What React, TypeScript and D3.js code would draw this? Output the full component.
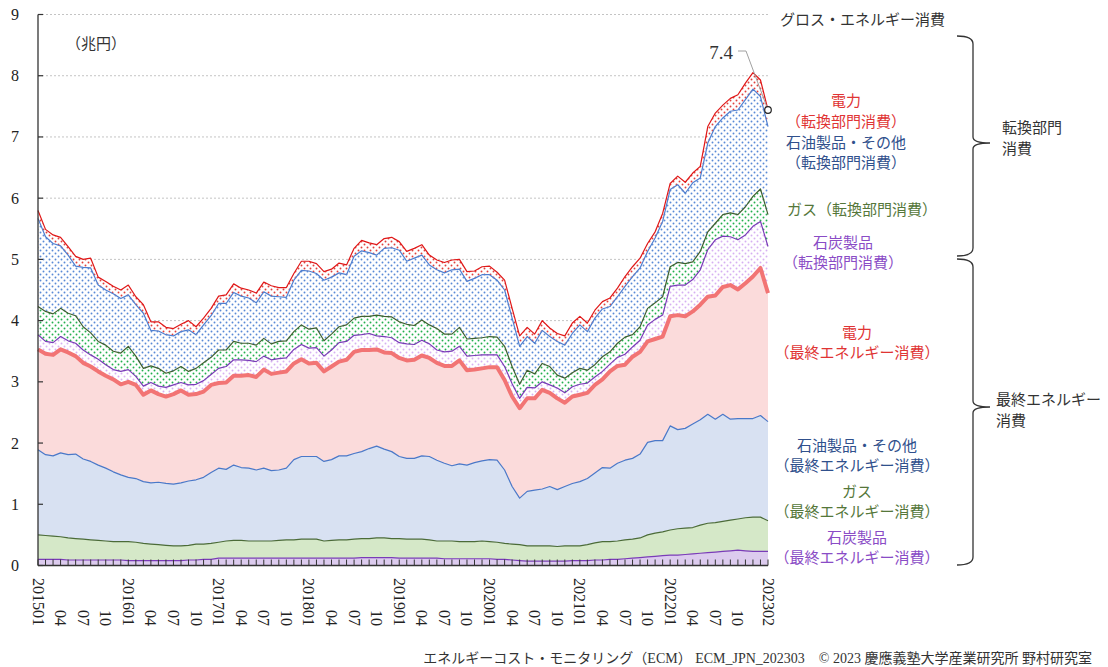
import React from 'react';
import * as d3 from 'd3';

// ---- categories (2015-01 .. 2023-02, monthly) ----
const months: string[] = d3
  .timeMonth.range(new Date(2015, 0, 1), new Date(2023, 2, 1))
  .map((d) => d3.timeFormat('%Y%m')(d));

// ---- series values (兆円), stacked bottom to top ----
const coalFinal = [
  0.10,0.10,0.10,0.10,0.09,0.09,0.09,0.09,0.09,0.09,0.09,0.09,
  0.08,0.08,0.08,0.08,0.08,0.08,0.08,0.08,0.09,0.09,0.10,0.10,
  0.12,0.12,0.12,0.12,0.12,0.12,0.12,0.12,0.12,0.12,0.12,0.12,
  0.12,0.12,0.12,0.12,0.12,0.12,0.12,0.13,0.13,0.13,0.13,0.13,
  0.12,0.12,0.12,0.12,0.12,0.12,0.11,0.11,0.11,0.11,0.11,0.11,
  0.11,0.10,0.10,0.09,0.08,0.07,0.07,0.07,0.07,0.07,0.07,0.08,
  0.08,0.08,0.09,0.09,0.10,0.10,0.11,0.12,0.13,0.14,0.15,0.16,
  0.17,0.17,0.18,0.19,0.20,0.21,0.22,0.23,0.24,0.25,0.24,0.23,0.23,0.23,
];
const gasFinal = [
  0.40,0.39,0.38,0.37,0.36,0.35,0.34,0.33,0.32,0.31,0.30,0.30,
  0.31,0.30,0.28,0.27,0.26,0.25,0.24,0.24,0.24,0.26,0.25,0.26,
  0.26,0.28,0.29,0.29,0.28,0.28,0.28,0.28,0.29,0.30,0.30,0.31,
  0.31,0.31,0.28,0.29,0.30,0.30,0.31,0.31,0.31,0.32,0.32,0.31,
  0.32,0.31,0.31,0.31,0.30,0.28,0.29,0.29,0.28,0.28,0.28,0.29,
  0.28,0.28,0.26,0.26,0.26,0.25,0.25,0.25,0.25,0.24,0.25,0.24,
  0.24,0.26,0.28,0.30,0.29,0.30,0.31,0.31,0.32,0.36,0.38,0.39,
  0.41,0.43,0.43,0.43,0.46,0.48,0.48,0.49,0.50,0.51,0.54,0.56,0.56,0.50,
];
const petroFinal = [
  1.39,1.32,1.31,1.37,1.36,1.38,1.31,1.28,1.23,1.19,1.14,1.09,
  1.05,1.04,1.01,1.00,1.02,1.01,1.01,1.03,1.05,1.05,1.09,1.16,
  1.21,1.17,1.23,1.19,1.19,1.16,1.19,1.15,1.15,1.17,1.31,1.35,
  1.35,1.35,1.30,1.32,1.37,1.37,1.40,1.42,1.47,1.50,1.45,1.42,
  1.34,1.32,1.32,1.36,1.36,1.32,1.27,1.23,1.27,1.25,1.29,1.31,
  1.34,1.34,1.20,0.94,0.76,0.89,0.91,0.93,0.97,0.93,0.97,1.02,
  1.05,1.08,1.14,1.21,1.20,1.27,1.30,1.32,1.37,1.51,1.51,1.49,
  1.70,1.62,1.63,1.69,1.72,1.78,1.69,1.75,1.65,1.64,1.62,1.61,1.66,1.62,
];
const elecFinal = [
  1.64,1.65,1.65,1.69,1.67,1.60,1.57,1.55,1.53,1.51,1.51,1.48,
  1.56,1.53,1.42,1.51,1.44,1.42,1.47,1.51,1.41,1.40,1.40,1.43,
  1.39,1.42,1.46,1.50,1.52,1.52,1.61,1.58,1.59,1.58,1.57,1.59,
  1.52,1.53,1.47,1.52,1.54,1.57,1.66,1.66,1.61,1.58,1.58,1.61,
  1.61,1.60,1.61,1.64,1.61,1.59,1.59,1.63,1.69,1.55,1.52,1.51,
  1.51,1.52,1.47,1.47,1.47,1.52,1.50,1.62,1.53,1.49,1.37,1.42,
  1.42,1.40,1.44,1.44,1.58,1.59,1.56,1.66,1.67,1.65,1.66,1.70,
  1.79,1.87,1.83,1.84,1.88,1.92,2.02,2.08,2.19,2.11,2.21,2.32,2.41,2.10,
];
const coalTrans = [
  0.24,0.20,0.20,0.21,0.19,0.21,0.21,0.19,0.20,0.18,0.16,0.21,
  0.20,0.14,0.14,0.13,0.13,0.15,0.15,0.13,0.16,0.16,0.18,0.17,
  0.24,0.26,0.26,0.26,0.24,0.25,0.22,0.23,0.23,0.22,0.23,0.24,
  0.25,0.25,0.25,0.27,0.31,0.30,0.27,0.25,0.27,0.22,0.26,0.25,
  0.25,0.27,0.25,0.25,0.23,0.21,0.23,0.24,0.23,0.23,0.23,0.22,
  0.20,0.20,0.22,0.21,0.16,0.18,0.17,0.13,0.13,0.17,0.16,0.16,
  0.17,0.16,0.13,0.13,0.12,0.14,0.17,0.16,0.19,0.27,0.32,0.35,
  0.49,0.49,0.51,0.52,0.57,0.77,0.91,0.83,0.79,0.81,0.79,0.82,0.76,0.76,
];
const gasTrans = [
  0.46,0.49,0.47,0.46,0.45,0.45,0.38,0.36,0.29,0.32,0.30,0.30,
  0.38,0.33,0.29,0.27,0.29,0.23,0.23,0.26,0.22,0.26,0.29,0.28,
  0.30,0.27,0.30,0.27,0.28,0.27,0.29,0.26,0.28,0.28,0.29,0.32,
  0.31,0.32,0.25,0.26,0.26,0.27,0.28,0.30,0.28,0.34,0.33,0.34,
  0.34,0.32,0.31,0.33,0.31,0.35,0.29,0.28,0.31,0.28,0.28,0.28,
  0.30,0.29,0.33,0.28,0.23,0.28,0.23,0.30,0.30,0.21,0.24,0.23,
  0.26,0.21,0.20,0.24,0.20,0.23,0.28,0.20,0.22,0.27,0.27,0.30,
  0.32,0.37,0.35,0.29,0.30,0.29,0.27,0.35,0.39,0.41,0.46,0.49,0.53,0.52,
];
const petroTrans = [
  1.44,1.22,1.15,1.02,0.95,0.81,0.97,1.06,0.92,0.90,0.94,0.89,
  0.84,0.84,0.90,0.58,0.61,0.63,0.57,0.57,0.68,0.55,0.62,0.68,
  0.76,0.76,0.80,0.77,0.74,0.69,0.76,0.78,0.73,0.71,0.84,0.89,
  0.95,0.89,0.99,0.93,0.88,0.82,1.01,1.07,1.04,0.98,1.11,1.13,
  1.17,1.03,1.10,1.06,0.98,0.96,1.00,1.05,0.95,0.94,0.98,1.03,
  1.01,0.93,0.92,0.79,0.62,0.55,0.50,0.54,0.49,0.55,0.54,0.64,
  0.71,0.63,0.76,0.78,0.74,0.76,0.83,0.95,0.96,0.93,1.06,1.23,
  1.26,1.27,1.15,1.29,1.20,1.45,1.58,1.58,1.66,1.71,1.75,1.75,1.51,1.44,
];
const elecTrans = [
  0.13,0.12,0.14,0.14,0.14,0.16,0.13,0.16,0.13,0.14,0.12,0.14,
  0.16,0.13,0.14,0.14,0.15,0.12,0.12,0.12,0.15,0.13,0.11,0.12,
  0.12,0.14,0.14,0.13,0.13,0.16,0.16,0.17,0.15,0.16,0.11,0.15,
  0.16,0.16,0.14,0.13,0.16,0.16,0.13,0.17,0.16,0.17,0.16,0.17,
  0.14,0.16,0.16,0.17,0.16,0.16,0.17,0.16,0.16,0.16,0.12,0.13,
  0.14,0.13,0.16,0.16,0.17,0.15,0.15,0.16,0.14,0.13,0.15,0.17,
  0.14,0.14,0.13,0.12,0.14,0.14,0.16,0.16,0.16,0.13,0.10,0.13,
  0.10,0.14,0.18,0.16,0.19,0.27,0.22,0.21,0.21,0.25,0.27,0.27,0.27,0.27,
];

const yTicks = [0, 1, 2, 3, 4, 5, 6, 7, 8, 9];
const seriesKeys = [
  'coalFinal', 'gasFinal', 'petroFinal', 'elecFinal',
  'coalTrans', 'gasTrans', 'petroTrans', 'elecTrans',
];
const seriesValues: Record<string, number[]> = {
  coalFinal, gasFinal, petroFinal, elecFinal, coalTrans, gasTrans, petroTrans, elecTrans,
};

const styles: Record<string, { fill: string; stroke: string; width: number }> = {
  coalFinal: { fill: '#dccbee', stroke: '#7a3bb8', width: 1.2 },
  gasFinal: { fill: '#d5e8c8', stroke: '#4b6b38', width: 1.2 },
  petroFinal: { fill: '#d8e1f2', stroke: '#4a78c8', width: 1.2 },
  elecFinal: { fill: '#fbdbdb', stroke: '#f27474', width: 4 },
  coalTrans: { fill: 'url(#dotPurple)', stroke: '#7a3bb8', width: 1.2 },
  gasTrans: { fill: 'url(#dotGreen)', stroke: '#3f5f2f', width: 1.2 },
  petroTrans: { fill: 'url(#dotBlue)', stroke: '#4f7fd0', width: 1.2 },
  elecTrans: { fill: 'url(#dotRed)', stroke: '#e01818', width: 1.2 },
};

const SERIF = '"Liberation Serif", "Times New Roman", serif';
const JP = '"Liberation Serif", "Noto Sans CJK JP", sans-serif';

const RED = '#e03434';
const NAVY = '#30508c';
const OLIVE = '#55773a';
const PURPLE = '#8a4cc6';

const labels: { t: string; c: string; x: number; y: number }[] = [
  { t: '電力', c: RED, x: 846, y: 101 },
  { t: '（転換部門消費）', c: RED, x: 846, y: 122 },
  { t: '石油製品・その他', c: NAVY, x: 846, y: 143 },
  { t: '（転換部門消費）', c: NAVY, x: 846, y: 163 },
  { t: 'ガス（転換部門消費）', c: OLIVE, x: 862, y: 210 },
  { t: '石炭製品', c: PURPLE, x: 843, y: 243 },
  { t: '（転換部門消費）', c: PURPLE, x: 843, y: 263 },
  { t: '電力', c: RED, x: 857, y: 333 },
  { t: '（最終エネルギー消費）', c: RED, x: 857, y: 353 },
  { t: '石油製品・その他', c: NAVY, x: 857, y: 446 },
  { t: '（最終エネルギー消費）', c: NAVY, x: 857, y: 466 },
  { t: 'ガス', c: OLIVE, x: 857, y: 492 },
  { t: '（最終エネルギー消費）', c: OLIVE, x: 857, y: 512 },
  { t: '石炭製品', c: PURPLE, x: 857, y: 538 },
  { t: '（最終エネルギー消費）', c: PURPLE, x: 857, y: 558 },
];

function brace(xe: number, xs: number, xt: number, y0: number, ym: number, y1: number) {
  return `M${xe},${y0} Q${xs},${y0} ${xs},${y0 + 8} L${xs},${ym - 6} Q${xs},${ym} ${xt},${ym} Q${xs},${ym} ${xs},${ym + 6} L${xs},${y1 - 8} Q${xs},${y1} ${xe},${y1}`;
}

export default function App() {
  const left = 38, right = 768, top = 14.5, bottom = 565.5;
  const x = d3.scalePoint<string>().domain(months).range([left, right]);
  const y = d3.scaleLinear().domain([0, 9]).range([bottom, top]);

  const table = months.map((m, i) => {
    const row: any = { month: m };
    seriesKeys.forEach((k) => (row[k] = seriesValues[k][i]));
    return row;
  });
  const stacked = d3.stack<any>().keys(seriesKeys)(table);

  const area = d3
    .area<any>()
    .x((d) => x(d.data.month) as number)
    .y0((d) => y(d[0]))
    .y1((d) => y(d[1]));
  const line = d3
    .line<any>()
    .x((d) => x(d.data.month) as number)
    .y((d) => y(d[1]));

  const lastTop = stacked[stacked.length - 1][months.length - 1];
  const lastX = x(months[months.length - 1]) as number;
  const lastY = y(lastTop[1]);

  const xLabelIdx = months
    .map((m, i) => i)
    .filter((i) => (i % 3 === 0 && i <= months.length - 5) || i === months.length - 1);

  const dot = (id: string, color: string, r = 0.95) => (
    <pattern id={id} width={6} height={6} patternUnits="userSpaceOnUse">
      <rect width={6} height={6} fill="#ffffff" />
      <circle cx={1.5} cy={1.5} r={r} fill={color} />
      <circle cx={4.5} cy={4.5} r={r} fill={color} />
    </pattern>
  );

  return (
    <svg
      width={1108}
      height={667}
      style={{ position: 'absolute', left: 0, top: 0, background: '#fff' }}
    >
      <defs>
        {dot('dotBlue', '#5a8ad6')}
        {dot('dotRed', '#e0403c')}
        {dot('dotGreen', '#22b04e')}
        {dot('dotPurple', '#d6b0f2')}
      </defs>
      <rect width={1108} height={667} fill="#fff" />

      {/* grid */}
      {yTicks.filter((v) => v > 0).map((v) => (
        <line key={'g' + v} x1={left} x2={right} y1={y(v)} y2={y(v)}
          stroke="#c4c4c4" strokeWidth={1} strokeDasharray="2,2" />
      ))}

      {/* areas */}
      {stacked.map((s) => (
        <path key={'a' + s.key} d={area(s) as string} fill={styles[s.key].fill} stroke="none" />
      ))}
      {/* lines */}
      {stacked.map((s) => (
        <path key={'l' + s.key} d={line(s) as string} fill="none"
          stroke={styles[s.key].stroke} strokeWidth={styles[s.key].width}
          strokeLinejoin="round" />
      ))}

      {/* axes */}
      <line x1={left} x2={left} y1={top} y2={bottom} stroke="#333" strokeWidth={1.3} />
      <line x1={left} x2={right} y1={bottom} y2={bottom} stroke="#333" strokeWidth={1.3} />
      {yTicks.map((v) => (
        <g key={'yt' + v}>
          <line x1={left} x2={left + 5} y1={y(v)} y2={y(v)} stroke="#333" strokeWidth={1.2} />
          <text x={19} y={y(v)} textAnchor="end" dominantBaseline="central"
            fontFamily={SERIF} fontSize={16} fill="#222">{v}</text>
        </g>
      ))}
      {months.map((m) => (
        <line key={'xt' + m} x1={x(m)} x2={x(m)} y1={bottom} y2={bottom - 6}
          stroke="#333" strokeWidth={1} />
      ))}
      {xLabelIdx.map((i) => {
        const m = months[i];
        const t = m.endsWith('01') || i === months.length - 1 ? m : m.slice(4);
        return (
          <text key={'xl' + m} transform={`translate(${x(m)},626) rotate(90)`}
            textAnchor="end" dominantBaseline="central"
            fontFamily={SERIF} fontSize={16} fill="#222">{t}</text>
        );
      })}

      {/* unit */}
      <text x={66} y={44} dominantBaseline="central" fontFamily={JP} fontSize={15} fill="#333">（兆円）</text>

      {/* last value annotation */}
      <polyline points={`738,51 746,51 ${lastX},${lastY}`} fill="none" stroke="#a0a0a0" strokeWidth={1} />
      <circle cx={lastX} cy={lastY} r={3.3} fill="#fff" stroke="#222" strokeWidth={1.2} />
      <text x={733} y={52} textAnchor="end" dominantBaseline="central"
        fontFamily={SERIF} fontSize={19} fill="#333">{d3.format('.1f')(lastTop[1])}</text>

      {/* right labels */}
      <text x={780} y={20} dominantBaseline="central" fontFamily={JP} fontSize={15} fill="#333">グロス・エネルギー消費</text>
      {labels.map((l, i) => (
        <text key={'lb' + i} x={l.x} y={l.y} textAnchor="middle" dominantBaseline="central"
          fontFamily={JP} fontSize={15} fill={l.c}>{l.t}</text>
      ))}

      {/* braces */}
      <path d={brace(957, 973, 990, 36, 143, 256)} fill="none" stroke="#333" strokeWidth={1.3} />
      <path d={brace(957, 973, 990, 259, 407, 565)} fill="none" stroke="#333" strokeWidth={1.3} />
      <text x={1002} y={128} dominantBaseline="central" fontFamily={JP} fontSize={15} fill="#333">転換部門</text>
      <text x={1002} y={149} dominantBaseline="central" fontFamily={JP} fontSize={15} fill="#333">消費</text>
      <text x={996} y={400} dominantBaseline="central" fontFamily={JP} fontSize={15} fill="#333">最終エネルギー</text>
      <text x={996} y={421} dominantBaseline="central" fontFamily={JP} fontSize={15} fill="#333">消費</text>

      {/* footer */}
      <text x={1092} y={658} textAnchor="end" dominantBaseline="central" fontFamily={JP} fontSize={14} fill="#333">
        エネルギーコスト・モニタリング（ECM） ECM_JPN_202303　© 2023 慶應義塾大学産業研究所 野村研究室
      </text>
    </svg>
  );
}
